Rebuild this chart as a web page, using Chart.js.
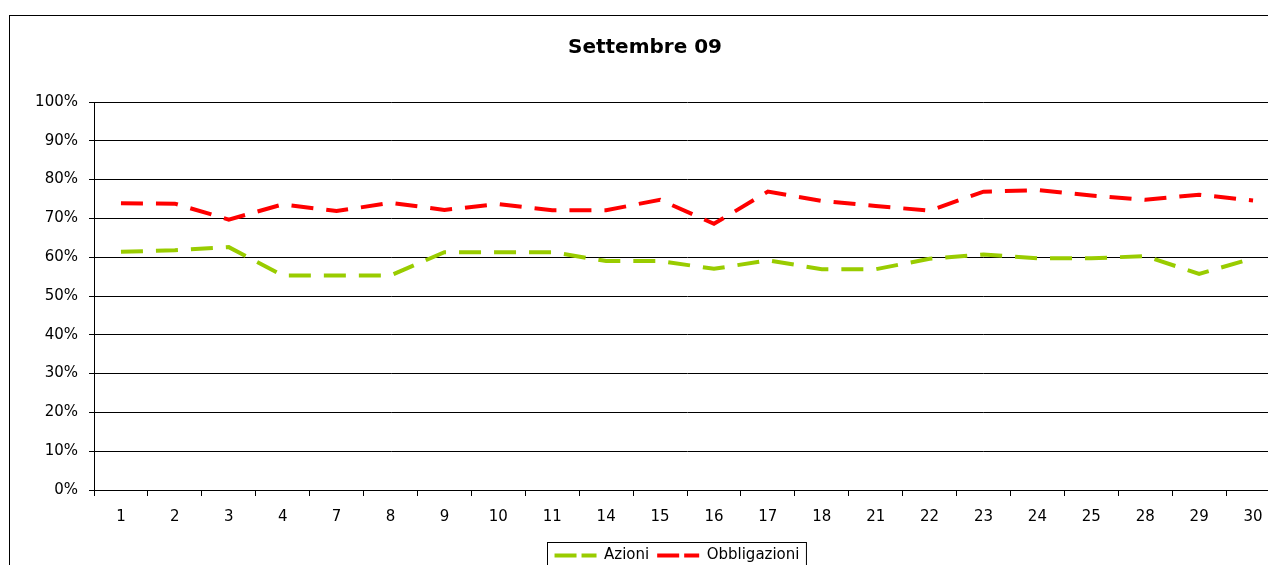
<!DOCTYPE html>
<html lang="it">
<head>
  <meta charset="UTF-8">
  <title>Settembre 09</title>
  <script src="https://cdn.jsdelivr.net/npm/chart.js"></script>
  <style>
    html, body { margin: 0; padding: 0; background: #fff; overflow: hidden; }
    #wrap {
      position: absolute;
      left: 9px;
      top: 15px;
      width: 1300px;
      height: 600px;
      border: 1px solid #000;
      background: #fff;
    }
    canvas { display: block; }
  </style>
</head>
<body>
  <div id="wrap"><canvas id="chart" width="1300" height="557"></canvas></div>

  <script>
    // giorni di borsa di settembre 2009
    const giorni = ['1', '2', '3', '4', '7', '8', '9', '10', '11', '14', '15', '16', '17', '18', '21', '22', '23', '24', '25', '28', '29', '30'];
    // quote in %
    const azioni = [61.4, 61.8, 62.6, 55.3, 55.3, 55.3, 61.3, 61.3, 61.3, 59.0, 59.0, 57.0, 59.2, 56.9, 56.9, 59.6, 60.7, 59.7, 59.7, 60.3, 55.7, 59.7];
    const obbligazioni = [73.9, 73.8, 69.7, 73.6, 71.9, 74.0, 72.2, 73.7, 72.1, 72.1, 74.8, 68.6, 76.9, 74.5, 73.2, 72.0, 76.9, 77.3, 75.9, 74.8, 76.1, 74.6];
    const yTicks = [0, 10, 20, 30, 40, 50, 60, 70, 80, 90, 100];

    const font = 'DejaVu Sans';

    // legenda spostata a destra e incorniciata come nell'originale
    const legendBox = {
      id: 'legendBox',
      afterLayout(chart) {
        chart.legend.left += 32;
        chart.legend.right += 32;
      },
      afterDraw(chart) {
        const items = chart.legend.legendHitBoxes;
        if (!items || !items.length) return;
        const left = Math.min(...items.map(h => h.left)) - 8;
        const right = Math.max(...items.map(h => h.left + h.width)) + 6;
        const top = Math.min(...items.map(h => h.top)) - 6;
        const ctx = chart.ctx;
        ctx.save();
        ctx.strokeStyle = '#000';
        ctx.lineWidth = 1;
        ctx.strokeRect(Math.round(left) + 0.5, Math.round(top) + 0.5, right - left, 40);
        ctx.restore();
      }
    };

    const ctx = document.getElementById('chart').getContext('2d');
    new Chart(ctx, {
      type: 'line',
      data: {
        labels: giorni,
        datasets: [
          {
            label: 'Azioni',
            data: azioni,
            borderColor: '#99CC00',
            backgroundColor: '#99CC00',
            borderWidth: 4,
            borderDash: [22, 13],
            pointRadius: 0,
            tension: 0
          },
          {
            label: 'Obbligazioni',
            data: obbligazioni,
            borderColor: '#FF0000',
            backgroundColor: '#FF0000',
            borderWidth: 4,
            borderDash: [22, 13],
            pointRadius: 0,
            tension: 0
          }
        ]
      },
      options: {
        responsive: false,
        animation: false,
        layout: { padding: { left: 0, right: 30, top: 0, bottom: 0 } },
        plugins: {
          title: {
            display: true,
            text: 'Settembre 09',
            color: '#000',
            font: { family: font, size: 20, weight: 'bold' },
            padding: { top: 20, bottom: 42 }
          },
          legend: {
            position: 'bottom',
            labels: {
              color: '#000',
              font: { family: font, size: 15 },
              boxWidth: 42,
              boxHeight: 0,
              padding: 8
            }
          },
          tooltip: { enabled: false }
        },
        scales: {
          x: {
            offset: true,
            grid: {
              offset: true,
              drawOnChartArea: false,
              drawTicks: true,
              tickLength: 6,
              color: '#000'
            },
            border: { color: '#000', width: 1 },
            ticks: {
              color: '#000',
              font: { family: font, size: 15 },
              maxRotation: 0,
              autoSkip: false,
              padding: 12
            },
            afterFit(scale) { scale.height = 50; }
          },
          y: {
            min: 0,
            max: 100,
            afterBuildTicks(scale) { scale.ticks = yTicks.map(v => ({ value: v })); },
            grid: {
              color: '#000',
              tickLength: 5,
              lineWidth: 1
            },
            border: { color: '#000', width: 1 },
            ticks: {
              color: '#000',
              font: { family: font, size: 15 },
              padding: 11,
              callback: v => v + '%'
            },
            afterFit(scale) { scale.width = 84; }
          }
        }
      },
      plugins: [legendBox]
    });
  </script>
</body>
</html>
